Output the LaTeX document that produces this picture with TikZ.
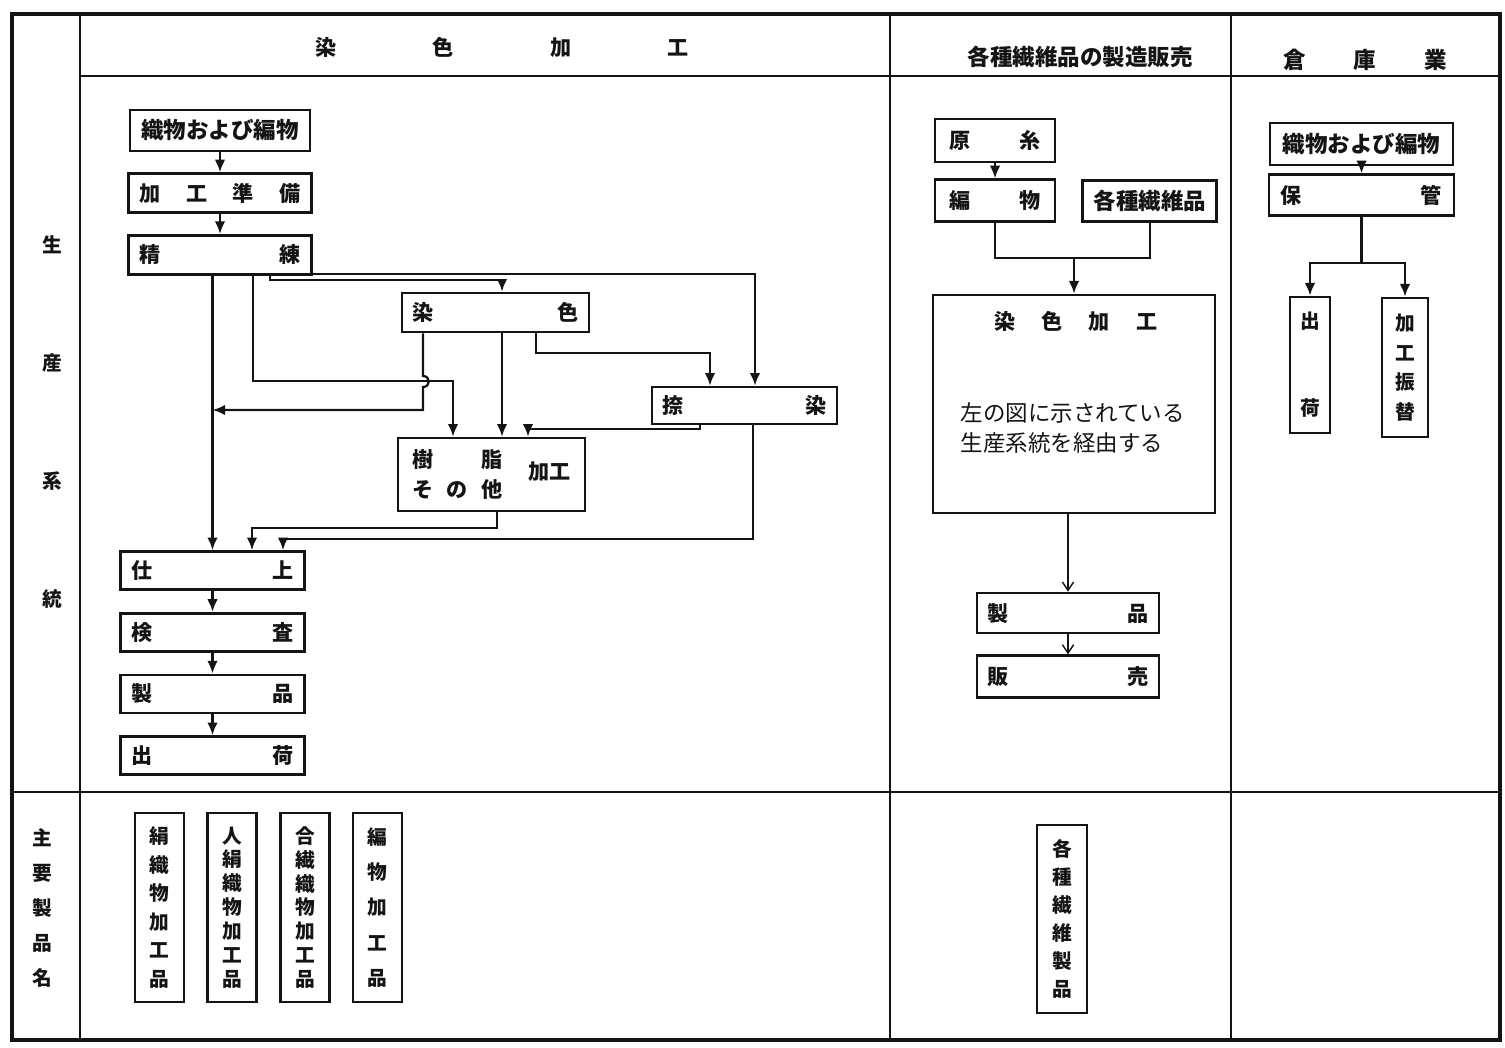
\documentclass[tikz,border=0pt]{standalone}
\usepackage{fontspec}
\newfontfamily\jp{Noto Sans CJK JP}
\usetikzlibrary{
    arrows.meta,
    positioning,
    calc
}
\definecolor{ink}{RGB}{20,20,20}
\tikzset{
  box/.style   = {draw=ink, line width=1.9pt, minimum height=0.975cm,
                  inner xsep=0.27cm, inner ysep=0pt, text=ink,
                  font={\jp\bfseries\fontsize{15}{18}\selectfont}},
  sbox/.style  = {box, text width=#1},
  wide/.style  = {font={\jp\bfseries\fontsize{16}{19}\selectfont}},
  vbox/.style  = {draw=ink, line width=1.9pt, inner sep=0pt, text=ink,
                  minimum width=1.225cm, minimum height=4.725cm, align=center,
                  font={\jp\bfseries\fontsize{14}{#1}\selectfont}},
  head/.style  = {text=ink, font={\jp\bfseries\fontsize{15}{18}\selectfont}},
  lab/.style   = {align=center, inner sep=0pt, text=ink,
                  font={\jp\bfseries\fontsize{14}{#1}\selectfont}},
  rule/.style  = {draw=ink, line width=1.8pt},
  ln/.style    = {line width=1.6pt, ink},
  arr/.style   = {-{Latex[length=9pt,width=7.5pt]}, line width=1.6pt, ink},
  arrt/.style  = {-{Straight Barb[length=6pt,width=8pt]}, line width=1pt, ink}
}

\begin{document}
\begin{tikzpicture}[x=0.025cm, y=-0.025cm]
\useasboundingbox (0,0) rectangle (1505,1047);
% table
\draw[rule, line width=2.2pt] (12,14) rectangle (1500,1040);
\draw[rule] (80,14) -- (80,1040);
\draw[rule] (890,14) -- (890,1040);
\draw[rule] (1231,14) -- (1231,1040);
\draw[rule] (80,76) -- (1500,76);
\draw[rule] (12,792) -- (1500,792);
% headings
\node[head] (hdye) at (502,47) {染\hspace{2.4cm}色\hspace{2.4cm}加\hspace{2.4cm}工};
\node[head, wide] (hmake) at (1080,57) {各種繊維品の製造販売};
\node[head, wide] (hstore) at (1365,60) {倉\hspace{1.2cm}庫\hspace{1.2cm}業};
\node[lab=83.7pt] (lsys) at (52,422) {生\\産\\系\\統};
\node[lab=24.8pt] (lprod) at (42,908) {主\\要\\製\\品\\名};
% dyeing flow
\node[box, wide, minimum width=4.5cm, minimum height=1.025cm] (weave) at (220,130.5) {織物および編物};
\node[sbox=4.035cm, below=0.5cm of weave] (prep) {加\hfill 工\hfill 準\hfill 備};
\node[sbox=4.035cm, below=0.5cm of prep] (scour) {精\hfill 練};
\node[sbox=4.135cm] (dye) at (495.5,312.5) {染\hfill 色};
\node[sbox=4.085cm, minimum height=0.925cm] (print) at (744.5,405.5) {捺\hfill 染};
\node[box, minimum width=4.675cm, minimum height=1.825cm, inner xsep=0.35cm] (resin) at (491.5,474.5)
  {\parbox{2.25cm}{樹\hfill 脂\\[3.3pt]そ\hfill の\hfill 他}\hspace{0.65cm}加工};
\node[sbox=4.06cm, minimum height=0.95cm] (finish) at (212.5,570.5) {仕\hfill 上};
\node[sbox=4.06cm, minimum height=0.95cm, below=0.525cm of finish] (check) {検\hfill 査};
\node[sbox=4.06cm, minimum height=0.95cm, below=0.525cm of check] (goods) {製\hfill 品};
\node[sbox=4.06cm, minimum height=0.95cm, below=0.525cm of goods] (ship) {出\hfill 荷};
\draw[arr] (weave) -- (prep);
\draw[arr] (prep) -- (scour);
\draw[arr] (finish.north |- scour.south) -- (finish.north);
\draw[arr] (253,0 |- scour.south) -- (253,381) -- (453,381) -- (453,0 |- resin.north);
\draw[arr] (270,0 |- scour.south) |- (502,280) -- (502,0 |- dye.north);
\draw[arr] (288,0 |- scour.south) |- (755,274) -- (755,0 |- print.north);
\draw[arr] (423,0 |- dye.south) -- (423,376) to[out=0,in=0,looseness=1.8] (423,387)
  -- (423,410) -- (finish.north |- 0,410);
\draw[arr] (502,0 |- dye.south) -- (502,0 |- resin.north);
\draw[arr] (536,0 |- dye.south) |- (710,353) -- (710,0 |- print.north);
\draw[arr] (700,0 |- print.south) |- (528,429) -- (528,0 |- resin.north);
\draw[arr] (497,0 |- resin.south) |- (252,528) -- (252,0 |- finish.north);
\draw[arr] (753,0 |- print.south) |- (283,539) -- (283,0 |- finish.north);
\draw[arr] (finish) -- (check);
\draw[arr] (check) -- (goods);
\draw[arr] (goods) -- (ship);
% textile goods
\node[sbox=2.3cm, inner xsep=0.35cm, minimum height=1.075cm] (yarn) at (995,140.5) {原\hfill 糸};
\node[sbox=2.3cm, inner xsep=0.35cm, minimum height=1.05cm, below=0.375cm of yarn] (knit) {編\hfill 物};
\node[box, wide, minimum width=3.325cm, minimum height=1.025cm, right=0.625cm of knit] (fibre) {各種繊維品};
\node[box, minimum width=7.05cm, minimum height=5.45cm] (dye2) at (1074,404) {};
\node[head] (dye2t) at ($(dye2.north)+(2,28)$) {染\hspace{0.65cm}色\hspace{0.65cm}加\hspace{0.65cm}工};
\node[anchor=west, align=left, text=ink, font={\jp\fontsize{16}{21.3}\selectfont}] (dye2b)
  at ($(dye2.west)+(24,24)$) {左の図に示されている\\生産系統を経由する};
\node[sbox=4.01cm, minimum height=1cm] (goods2) at (1068,613) {製\hfill 品};
\node[sbox=4.01cm, minimum height=1.05cm, below=0.5cm of goods2] (sale) {販\hfill 売};
\draw[arr] (yarn) -- (knit);
\draw[ln] (knit.south) |- (fibre.south |- 0,258) -- (fibre.south);
\draw[arr] (dye2.north |- 0,258) -- (dye2.north);
\draw[arrt] (goods2.north |- dye2.south) -- (goods2.north);
\draw[arrt] (goods2) -- (sale);
% warehouse
\node[box, wide, minimum width=4.575cm, minimum height=1.05cm] (weave2) at (1361.5,144) {織物および編物};
\node[sbox=4.025cm, inner xsep=0.3cm, minimum height=1.025cm, below=0.175cm of weave2] (keep) {保\hfill 管};
\node[vbox=61.7pt, minimum width=1cm, minimum height=3.4cm] (ship3) at (1310,365) {出\\荷};
\node[vbox=21pt, minimum width=1.15cm, minimum height=3.475cm] (swap) at (1405,367.5) {加\\工\\振\\替};
\draw[arr] (weave2) -- (keep);
\draw[arr] (keep.south) |- (ship3.north |- 0,263) -- (ship3.north);
\draw[arr] (keep.south |- 0,263) -| (swap.north);
% main products
\node[vbox=20.3pt] (p1) at (159.5,907.5) {絹\\織\\物\\加\\工\\品};
\node[vbox=17pt, right=0.525cm of p1] (p2) {人\\絹\\織\\物\\加\\工\\品};
\node[vbox=17pt, right=0.525cm of p2] (p3) {合\\繊\\織\\物\\加\\工\\品};
\node[vbox=25.2pt, right=0.525cm of p3] (p4) {編\\物\\加\\工\\品};
\node[vbox=19.9pt, minimum width=1.25cm, minimum height=4.7cm] (p5) at (1062,919) {各\\種\\繊\\維\\製\\品};
\end{tikzpicture}
\end{document}
